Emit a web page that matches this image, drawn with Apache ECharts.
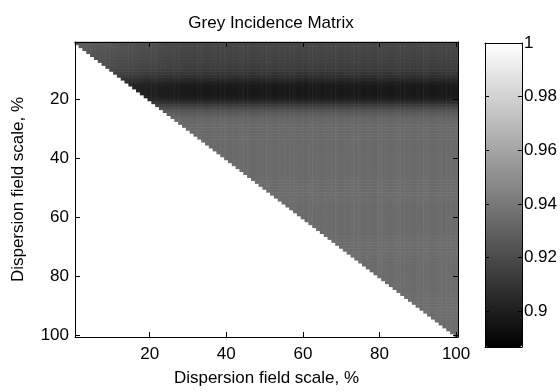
<!DOCTYPE html>
<html>
<head>
<meta charset="utf-8">
<script src="https://cdn.jsdelivr.net/npm/echarts@6/dist/echarts.min.js"></script>
<style>
  html, body { margin: 0; padding: 0; background: #fff; }
  #chart { width: 560px; height: 392px; }
</style>
</head>
<body>
<div id="chart"></div>
<script>
// 1..100 % on both axes
const scales = []
for (let k = 1; k <= 100; k++) scales.push(String(k))
const tickLabels = ['20', '40', '60', '80', '100']
const barTicks = [0.9, 0.92, 0.94, 0.96, 0.98, 1]
const cMin = 0.8866
const cMax = 1

// grey level of each row (read at the right edge of the matrix)
const rowLevel = [
  0.9186, 0.9182, 0.9177, 0.9173, 0.9168, 0.9160, 0.9151, 0.9142, 0.9133, 0.9119,
  0.9102, 0.9079, 0.9044, 0.9013, 0.8991, 0.8982, 0.8977, 0.8977, 0.8986, 0.9013,
  0.9066, 0.9133, 0.9195, 0.9244, 0.9280, 0.9302, 0.9315, 0.9324, 0.9333, 0.9337,
  0.9330, 0.9333, 0.9335, 0.9337, 0.9337, 0.9339, 0.9340, 0.9340, 0.9341, 0.9342,
  0.9342, 0.9343, 0.9341, 0.9343, 0.9344, 0.9342, 0.9343, 0.9345, 0.9344, 0.9343,
  0.9344, 0.9345, 0.9343, 0.9345, 0.9346, 0.9344, 0.9345, 0.9346, 0.9345, 0.9344,
  0.9346, 0.9345, 0.9347, 0.9346, 0.9345, 0.9347, 0.9346, 0.9347, 0.9348, 0.9346,
  0.9347, 0.9348, 0.9346, 0.9347, 0.9348, 0.9349, 0.9347, 0.9348, 0.9349, 0.9348,
  0.9348, 0.9349, 0.9350, 0.9348, 0.9349, 0.9350, 0.9349, 0.9351, 0.9350, 0.9349,
  0.9350, 0.9351, 0.9349, 0.9350, 0.9351, 0.9352, 0.9350, 0.9351, 0.9352, 0.9351
]

// column shading (lighter top-left corner, faint vertical stripes)
const colShift = [
  0.009, 0.009, 0.0085, 0.008, 0.008, 0.0075, 0.007, 0.007, 0.0065, 0.006,
  0.006, 0.0055, 0.005, 0.005, 0.0045, 0.004, 0.004, 0.0035, 0.003, 0.003,
  0.0025, 0.0025, 0.002, 0.002, 0.0015, 0.0015, 0.001, 0.001, 0.0005, 0.0005,
  0.0003, -0.0003, 0.0005, 0, -0.0005, 0.0003, 0.0008, -0.0003, 0, 0.0005,
  -0.0005, 0.0003, 0, 0.0008, -0.0003, 0.0005, -0.0008, 0, 0.0003, -0.0005,
  0.0005, 0, -0.0003, 0.0008, 0.0003, -0.0005, 0, 0.0005, -0.0003, 0.0003,
  -0.0008, 0.0005, 0, 0.0003, -0.0005, 0.0008, 0, -0.0003, 0.0005, -0.0005,
  0.0003, 0, 0.0008, -0.0003, 0.0005, -0.0005, 0.0003, 0, -0.0008, 0.0005,
  0, 0.0003, -0.0005, 0.0005, 0.0008, -0.0003, 0, 0.0003, -0.0005, 0.0005,
  -0.0003, 0.0008, 0, -0.0005, 0.0003, 0.0005, -0.0003, 0, 0.0005, 0.0003
]

// only the upper triangle (column >= row) is filled
const cells = []
for (let i = 0; i < 100; i++) {
  for (let j = i; j < 100; j++) {
    cells.push([j, i, +(rowLevel[i] + colShift[j]).toFixed(4)])
  }
}

const font = 'Liberation Sans, Arial, sans-serif'
const showTick = (idx, val) => tickLabels.indexOf(val) >= 0
const black = { color: '#000', width: 1 }

const catAxis = (extra) => Object.assign({
  type: 'category',
  data: scales,
  gridIndex: 0,
  z: 10,
  axisLine: { show: true, lineStyle: black },
  axisTick: { show: true, inside: true, length: 5, interval: showTick, alignWithLabel: true, lineStyle: black },
  axisLabel: { show: true, interval: showTick, color: '#000', fontSize: 17, fontFamily: font },
  splitLine: { show: false }
}, extra)

const barEdge = (pos) => ({
  type: 'value', gridIndex: 1, position: pos, min: 0, max: 1, z: 10,
  axisLine: { show: true, onZero: false, lineStyle: black },
  axisTick: { show: false }, axisLabel: { show: false }, splitLine: { show: false }
})

const barAxis = (pos, labels) => ({
  type: 'value', gridIndex: 1, position: pos, min: cMin, max: cMax, z: 10,
  axisLine: { show: true, onZero: false, lineStyle: black },
  axisTick: { show: true, inside: true, length: 4, customValues: barTicks, lineStyle: black },
  axisLabel: { show: labels, customValues: barTicks, margin: 2, color: '#000', fontSize: 17, fontFamily: font },
  splitLine: { show: false }
})

const option = {
  animation: false,
  backgroundColor: '#fff',
  title: {
    text: 'Grey Incidence Matrix',
    left: 266,
    top: 10,
    textAlign: 'center',
    textStyle: { color: '#000', fontSize: 17, fontWeight: 'normal', fontFamily: font }
  },
  grid: [
    { left: 75, top: 42, width: 383, height: 304, show: false },
    { left: 485, top: 43, width: 37, height: 304, show: false }
  ],
  xAxis: [
    catAxis({
      position: 'bottom',
      name: 'Dispersion field scale, %',
      nameLocation: 'middle',
      nameGap: 33,
      nameTextStyle: { color: '#000', fontSize: 17, fontFamily: font },
      axisLabel: { show: true, interval: showTick, color: '#000', fontSize: 17, fontFamily: font, margin: 9 }
    }),
    catAxis({ position: 'top', axisLabel: { show: false } }),
    barEdge('bottom'),
    barEdge('top')
  ],
  yAxis: [
    catAxis({
      position: 'left',
      inverse: true,
      name: 'Dispersion field scale, %',
      nameLocation: 'middle',
      nameGap: 48,
      nameTextStyle: { color: '#000', fontSize: 17, fontFamily: font },
      axisLabel: { show: true, interval: showTick, color: '#000', fontSize: 17, fontFamily: font, margin: 6 }
    }),
    catAxis({ position: 'right', inverse: true, axisLabel: { show: false } }),
    barAxis('right', true),
    barAxis('left', false)
  ],
  visualMap: {
    type: 'continuous',
    seriesIndex: 0,
    min: cMin,
    max: cMax,
    calculable: false,
    realtime: false,
    orient: 'vertical',
    left: 485,
    top: 43,
    padding: 0,
    itemWidth: 37,
    itemHeight: 304,
    text: null,
    showLabel: false,
    inRange: { color: ['#000000', '#ffffff'] }
  },
  series: [
    {
      type: 'heatmap',
      xAxisIndex: 0,
      yAxisIndex: 0,
      data: cells,
      progressive: 0,
      emphasis: { disabled: true }
    },
    {
      // empty series so the colorbar frame axes are laid out
      type: 'line',
      xAxisIndex: 2,
      yAxisIndex: 2,
      data: [],
      silent: true
    }
  ]
}

const chart = echarts.init(document.getElementById('chart'))
chart.setOption(option)
</script>
</body>
</html>
